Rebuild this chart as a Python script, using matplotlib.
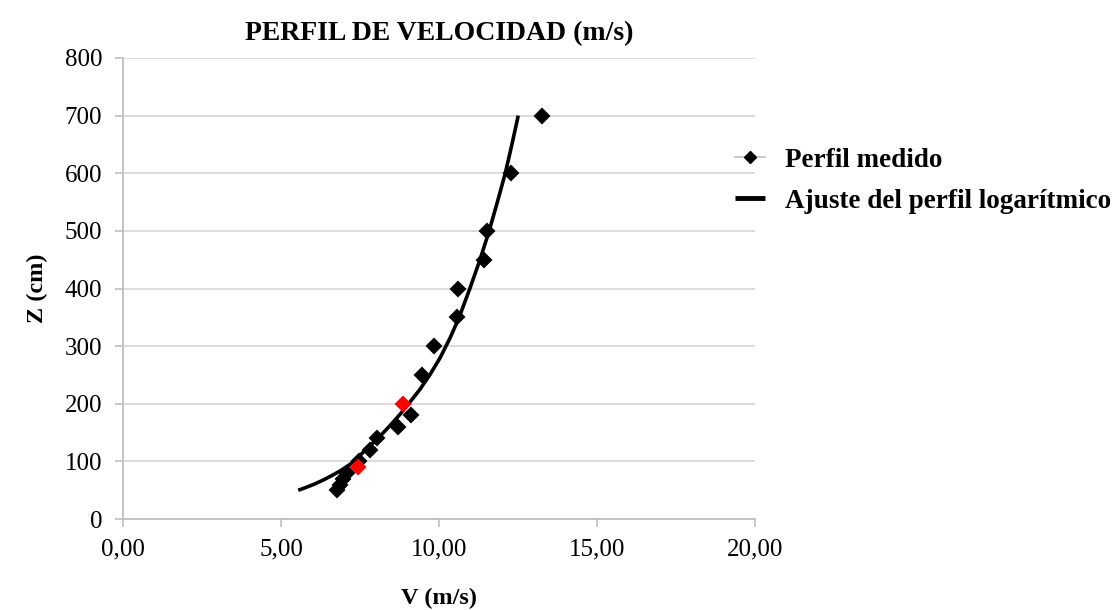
import matplotlib.pyplot as plt
from matplotlib.lines import Line2D

plt.rcParams['font.family'] = ['Liberation Serif', 'DejaVu Serif']

# perfil medido (V en m/s, Z en cm)
v_medido = [6.78, 6.87, 6.96, 7.08, 7.46, 7.80, 8.03, 8.71, 9.10, 9.46,
            9.84, 10.57, 10.60, 11.42, 11.52, 12.28, 13.26]
z_medido = [50, 60, 70, 80, 100, 120, 140, 160, 180, 250,
            300, 350, 400, 450, 500, 600, 700]

# puntos destacados en rojo
v_rojo = [7.43, 8.87]
z_rojo = [90, 200]

# ajuste logaritmico
v_ajuste = [5.54, 5.79, 6.02, 6.34, 6.62, 6.91, 7.18, 7.40, 7.63, 7.90,
            8.20, 8.49, 8.78, 9.03, 9.39, 9.70, 10.03, 10.35, 10.63, 10.97,
            11.29, 11.58, 11.84, 12.09, 12.30, 12.50]
z_ajuste = [50, 55, 60, 68, 76, 85, 95, 105, 118, 132,
            148, 165, 183, 200, 225, 250, 280, 315, 350, 400,
            450, 500, 550, 600, 650, 700]

gris = '#BFBFBF'

fig = plt.figure(figsize=(11.19, 6.10), dpi=100)
ax = fig.add_axes([0.110, 0.149, 0.565, 0.756])

ax.plot(v_ajuste, z_ajuste, color='black', lw=2.6, zorder=3,
        solid_capstyle='butt')
ax.plot(v_medido, z_medido, linestyle='none', marker='D', ms=7.5, mew=1.5,
        color='black', zorder=4)
ax.plot(v_rojo, z_rojo, linestyle='none', marker='D', ms=7.5, mew=1.5,
        color='red', zorder=5)

ax.set_xlim(0, 20)
ax.set_ylim(0, 800)
ax.set_xticks([0, 5, 10, 15, 20])
ax.set_xticklabels(['0,00', '5,00', '10,00', '15,00', '20,00'])
ax.set_yticks(range(0, 801, 100))

ax.yaxis.grid(True, color='#D9D9D9', lw=1.3)
ax.set_axisbelow(True)
for lado in ['top', 'right']:
    ax.spines[lado].set_visible(False)
for lado in ['left', 'bottom']:
    ax.spines[lado].set_color(gris)
    ax.spines[lado].set_linewidth(1.3)
ax.tick_params(colors=gris, labelcolor='black', labelsize=18, length=6, width=1.2)
ax.tick_params(axis='x', pad=8)
ax.tick_params(axis='y', pad=9)

ax.set_title('PERFIL DE VELOCIDAD (m/s)', fontsize=20, fontweight='bold', pad=13)
ax.set_xlabel('V (m/s)', fontsize=17.5, fontweight='bold', labelpad=20)
ax.set_ylabel('Z (cm)', fontsize=17.5, fontweight='bold', labelpad=12)

manejadores = [
    Line2D([], [], color=gris, lw=1.2, marker='D', ms=6.5,
           markerfacecolor='black', markeredgecolor='black'),
    Line2D([], [], color='black', lw=3.5, solid_capstyle='butt'),
]
fig.legend(manejadores, ['Perfil medido', 'Ajuste del perfil logarítmico'],
           loc='upper left', bbox_to_anchor=(0.657, 0.758), frameon=False,
           prop={'size': 19.5, 'weight': 'bold'}, handlelength=1.1,
           labelspacing=0.6, handletextpad=0.75, borderpad=0,
           borderaxespad=0)

fig.savefig('out.png', dpi=100)
